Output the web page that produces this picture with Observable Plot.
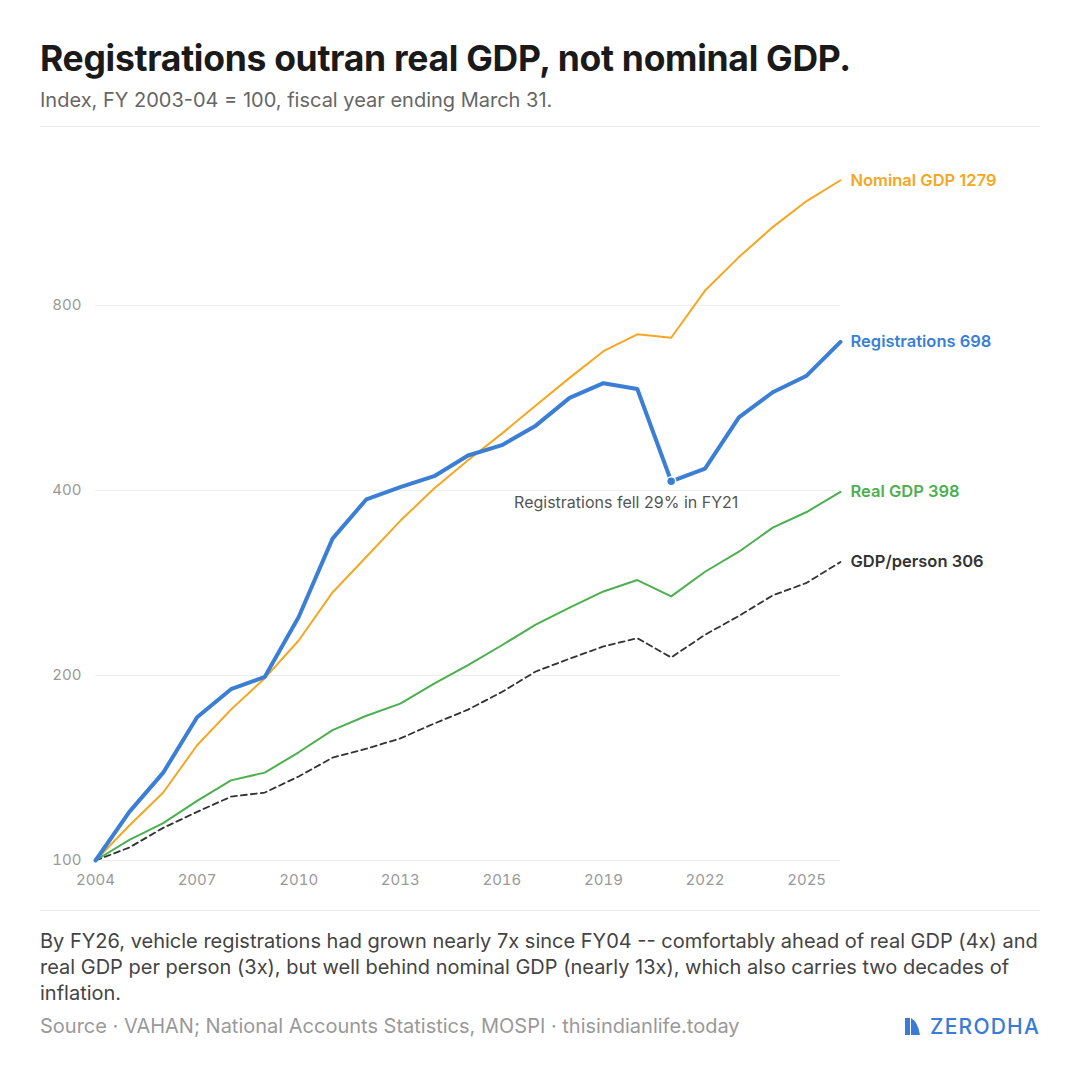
<!DOCTYPE html>
<html>
<head>
<meta charset="utf-8">
<script src="https://cdn.jsdelivr.net/npm/d3@7"></script>
<script src="https://cdn.jsdelivr.net/npm/@observablehq/plot@0.6"></script>
<style>
  html, body { margin: 0; padding: 0; background: #fff; }
  body { font-family: Inter, "Noto Sans", sans-serif; }
  #wrap { position: relative; width: 1080px; height: 1080px; overflow: hidden; }
  .abs { position: absolute; }
  #title { left: 40px; top: 41px; font-size: 35.5px; font-weight: 700; color: #1a1a1a; line-height: 1; letter-spacing: -0.3px; white-space: nowrap; }
  #subtitle { left: 40px; top: 90px; font-size: 20px; color: #666; line-height: 1; white-space: nowrap; }
  .rule { left: 40px; width: 1000px; height: 1px; background: #ebebeb; }
  #chart { left: 40px; top: 140px; }
  #caption { left: 40px; top: 928px; width: 1000px; font-size: 20px; line-height: 26px; color: #444; white-space: nowrap; }
  #source { left: 40px; top: 1013px; font-size: 20px; line-height: 26px; color: #999; white-space: nowrap; }
  #logo { right: 40px; top: 1013px; height: 26px; display: flex; align-items: center; gap: 9px; color: #3a7bd5; font-size: 21px; font-weight: 500; letter-spacing: 1.2px; }
</style>
</head>
<body>
<div id="wrap">
  <div id="title" class="abs">Registrations outran real GDP, not nominal GDP.</div>
  <div id="subtitle" class="abs">Index, FY 2003-04 = 100, fiscal year ending March 31.</div>
  <div class="abs rule" style="top:126px"></div>
  <div id="chart" class="abs"></div>
  <div class="abs rule" style="top:910px"></div>
  <div id="caption" class="abs">By FY26, vehicle registrations had grown nearly 7x since FY04 -- comfortably ahead of real GDP (4x) and<br>real GDP per person (3x), but well behind nominal GDP (nearly 13x), which also carries two decades of<br>inflation.</div>
  <div id="source" class="abs">Source · VAHAN; National Accounts Statistics, MOSPI · thisindianlife.today</div>
  <div id="logo" class="abs"><svg width="16" height="17" viewBox="0 0 16 17"><path d="M0,0 H5 V17 H0 Z" fill="#3a7bd5"/><path d="M6,0 Q13,4 15,17 H6 Z" fill="#3a7bd5"/></svg><span>ZERODHA</span></div>
</div>
<script>
// ---- Data (index, FY 2003-04 = 100; x = fiscal year ending March 31) ----
const years = [2004, 2005, 2006, 2007, 2008, 2009, 2010, 2011, 2012, 2013, 2014, 2015, 2016, 2017, 2018, 2019, 2020, 2021, 2022, 2023, 2024, 2025, 2026];
const registrations = [100, 120, 139, 171, 190, 199, 249, 334, 387, 405, 422, 456, 474, 510, 566, 598, 585, 414, 434, 526, 578, 615, 698];
const nominalGDP = [100, 114, 129, 154, 176, 198, 228, 273, 312, 357, 403, 448, 495, 550, 610, 674, 718, 709, 846, 959, 1073, 1183, 1279];
const realGDP = [100, 108, 115, 125, 135, 139, 150, 163, 172, 180, 194, 208, 224, 242, 258, 274, 286, 269, 295, 318, 348, 369, 398];
const gdpPerPerson = [100, 105, 113, 120, 127, 129, 137, 147, 152, 158, 167, 176, 188, 203, 213, 223, 230, 214, 233, 250, 270, 283, 306];

const seriesNames = ["GDP/person", "Real GDP", "Nominal GDP", "Registrations"];
const seriesValues = [gdpPerPerson, realGDP, nominalGDP, registrations];
const seriesColors = ["#333333", "#4caf50", "#f5a623", "#3a7fd5"];
const seriesWidths = [1.8, 2, 2, 4];

const xTicks = [2004, 2007, 2010, 2013, 2016, 2019, 2022, 2025];
const yTicks = [100, 200, 400, 800];
const yDomain = [100, 1300];

const annotationYear = 2021;
const annotationText = "Registrations fell 29% in FY21";

// ---- Build tables ----
const rows = seriesNames.map((name, i) =>
  years.map((yr, j) => ({series: name, year: yr, value: seriesValues[i][j]}))
);
const lastPoints = seriesNames.map((name, i) => ({
  series: name,
  year: years[years.length - 1],
  value: seriesValues[i][seriesValues[i].length - 1],
  color: seriesColors[i],
  label: `${name} ${seriesValues[i][seriesValues[i].length - 1]}`
}));
const dip = {year: annotationYear, value: registrations[years.indexOf(annotationYear)]};

const lineMarks = rows.map((data, i) =>
  Plot.line(data, {
    x: "year", y: "value",
    stroke: seriesColors[i],
    strokeWidth: seriesWidths[i],
    strokeDasharray: seriesNames[i] === "GDP/person" ? "6,4" : null,
    strokeLinejoin: "round", strokeLinecap: "round"
  })
);

const chart = Plot.plot({
  width: 1000,
  height: 755,
  marginLeft: 55,
  marginRight: 200,
  marginTop: 35.4,
  marginBottom: 35,
  style: {fontFamily: "Inter, sans-serif", fontSize: "15px", color: "#999", background: "transparent"},
  x: {domain: [2004, 2026]},
  y: {type: "log", domain: yDomain},
  marks: [
    Plot.ruleY(yTicks, {stroke: "#eeeeee", strokeWidth: 1}),
    Plot.axisX({ticks: xTicks, tickSize: 0, tickPadding: 14, tickFormat: d => String(d), label: null, fontSize: 15}),
    Plot.axisY({ticks: yTicks, tickSize: 0, tickPadding: 14, tickFormat: d => String(d), label: null, fontSize: 15}),
    ...lineMarks,
    Plot.dot([dip], {x: "year", y: "value", r: 4.5, fill: "#3a7fd5", stroke: "#fff", strokeWidth: 1.5}),
    Plot.text([dip], {x: "year", y: "value", text: () => annotationText, dx: -45, dy: 22, textAnchor: "middle", fill: "#555", fontSize: 16}),
    Plot.text(lastPoints, {x: "year", y: "value", text: "label", fill: "color", dx: 10, textAnchor: "start", fontSize: 16.5, fontWeight: 600})
  ]
});
document.getElementById("chart").appendChild(chart);
</script>
</body>
</html>
